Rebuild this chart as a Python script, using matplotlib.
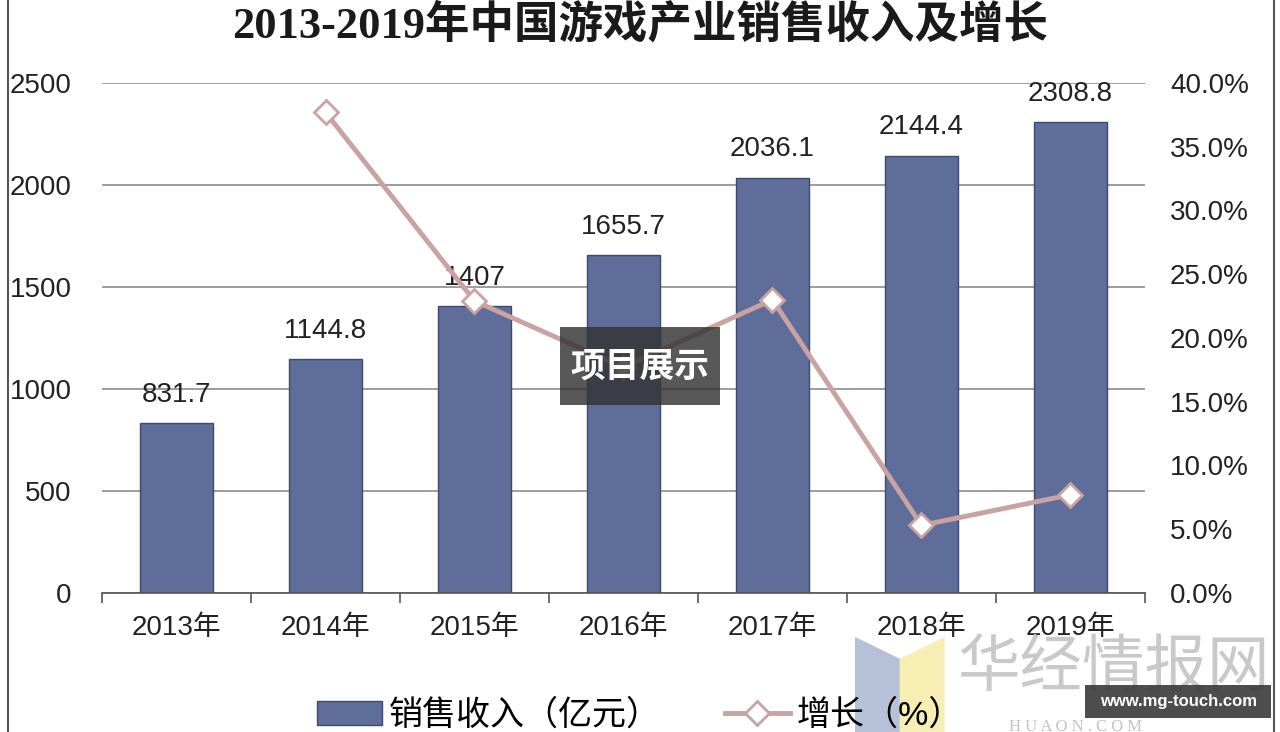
import matplotlib
matplotlib.use('Agg')
from matplotlib import pyplot as plt
from matplotlib.lines import Line2D
from matplotlib.patches import Patch, Rectangle, Polygon
from matplotlib.ticker import FuncFormatter

plt.rcParams['font.family'] = ['Liberation Sans', 'Noto Sans CJK SC', 'DejaVu Sans']

years = ['2013年', '2014年', '2015年', '2016年', '2017年', '2018年', '2019年']
revenue = [831.7, 1144.8, 1407, 1655.7, 2036.1, 2144.4, 2308.8]
revenue_labels = ['831.7', '1144.8', '1407', '1655.7', '2036.1', '2144.4', '2308.8']
growth_years = [1, 2, 3, 4, 5, 6]
growth = [37.7, 22.9, 17.7, 23.0, 5.3, 7.7]

bar_color = '#5E6D99'
line_color = '#C9A2A2'

fig = plt.figure(figsize=(12.8, 7.32), dpi=100)
ax = fig.add_axes([0.0797, 0.19, 0.8148, 0.6966])

x = list(range(len(years)))
ax.bar(x, revenue, width=0.49, color=bar_color, edgecolor='#3F4A6E', linewidth=1, zorder=2)
for i, v in enumerate(revenue):
    ax.annotate(revenue_labels[i], (i, v), xytext=(0, 11), textcoords='offset points',
                ha='center', va='bottom', fontsize=20, color='#222222')

ax.set_xlim(-0.5, 6.5)
ax.set_ylim(0, 2500)
ax.set_yticks([0, 500, 1000, 1500, 2000, 2500])
ax.yaxis.grid(True, color='#8C8C8C', linewidth=1.2)
ax.set_axisbelow(True)
ax.tick_params(axis='y', length=0, labelsize=20, pad=22, colors='#222222')
ax.set_xticks(x)
ax.set_xticklabels(years, fontsize=20)
ax.set_xticks([i + 0.5 for i in range(-1, 7)], minor=True)
ax.tick_params(axis='x', which='major', length=0, pad=16, colors='#222222')
ax.tick_params(axis='x', which='minor', length=7, color='#555555', width=1.2)
for s in ['top', 'left', 'right']:
    ax.spines[s].set_visible(False)
ax.spines['bottom'].set_color('#555555')
ax.spines['bottom'].set_linewidth(1.2)

ax2 = ax.twinx()
ax2.plot(growth_years, growth, color=line_color, linewidth=3.5, marker='D', markersize=12,
         markerfacecolor='white', markeredgecolor=line_color, markeredgewidth=2, zorder=3)
ax2.set_ylim(0, 40)
ax2.set_yticks([0, 5, 10, 15, 20, 25, 30, 35, 40])
ax2.yaxis.set_major_formatter(FuncFormatter(lambda v, p: '%.1f%%' % v))
ax2.tick_params(axis='y', length=0, labelsize=20, pad=18, colors='#222222')
for s in ['top', 'left', 'right', 'bottom']:
    ax2.spines[s].set_visible(False)

fig.text(0.5, 0.966, '2013-2019年中国游戏产业销售收入及增长', ha='center', va='center',
         fontsize=32, fontweight='bold', color='#1a1a1a',
         family=['Liberation Serif', 'Noto Sans CJK SC'])

handles = [Patch(facecolor=bar_color, edgecolor='#3F4A6E'),
           Line2D([0], [0], color=line_color, linewidth=3.5, marker='D', markersize=12,
                  markerfacecolor='white', markeredgecolor=line_color, markeredgewidth=2)]
fig.legend(handles, ['销售收入（亿元）', '增长（%）'], loc='center', bbox_to_anchor=(0.5, 0.022),
           ncol=2, frameon=False, fontsize=24.5, handlelength=1.9, handleheight=0.7,
           columnspacing=1.9, handletextpad=0.2)

# frame lines of the picture
fig.add_artist(Line2D([0.0065, 0.0065], [0, 1], color='#555555', linewidth=1.5))
fig.add_artist(Line2D([0.9955, 0.9955], [0, 1], color='#555555', linewidth=1.5))

# overlay watermarks
fig.patches.append(Rectangle((0.4375, 0.447), 0.125, 0.106, transform=fig.transFigure,
                             facecolor='#333333', alpha=0.82, edgecolor='none', zorder=5))
fig.text(0.5, 0.5, '项目展示', ha='center', va='center', fontsize=25, fontweight='bold',
         color='white', family=['Noto Sans CJK SC'], zorder=6)

fig.patches.append(Polygon([(0.668, 0.13), (0.703, 0.10), (0.703, 0.0), (0.668, 0.0)],
                           closed=True, transform=fig.transFigure, facecolor='#AAB5D3',
                           alpha=0.85, edgecolor='none', zorder=5))
fig.patches.append(Polygon([(0.703, 0.10), (0.738, 0.13), (0.738, 0.0), (0.703, 0.0)],
                           closed=True, transform=fig.transFigure, facecolor='#F6EBA6',
                           alpha=0.85, edgecolor='none', zorder=5))
fig.text(0.87, 0.088, '华经情报网', ha='center', va='center', fontsize=45, color='#C4C4C4',
         alpha=0.9, family=['Noto Sans CJK SC'], zorder=6)
fig.text(0.84, 0.007, 'H U A O N . C O M', ha='center', va='center', fontsize=12,
         color='#C4C4C4', family=['Liberation Serif'], zorder=6)
fig.patches.append(Rectangle((0.848, 0.019), 0.145, 0.045, transform=fig.transFigure,
                             facecolor='#3A3A3A', alpha=0.9, edgecolor='none', zorder=7))
fig.text(0.9205, 0.0415, 'www.mg-touch.com', ha='center', va='center', fontsize=12,
         fontweight='bold', color='white', zorder=8)

fig.savefig('out.png', dpi=100)
